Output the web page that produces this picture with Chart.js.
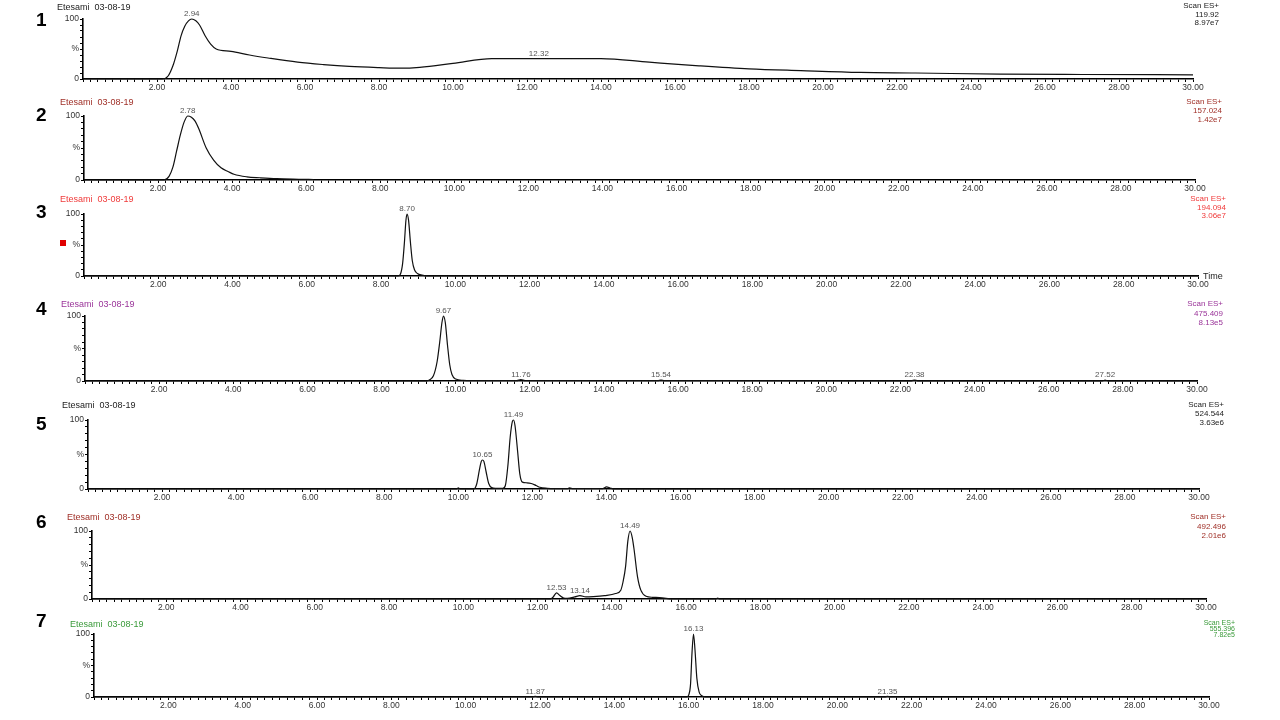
<!DOCTYPE html>
<html>
<head>
<meta charset="utf-8">
<script src="https://cdn.jsdelivr.net/npm/chart.js@4.4.1/dist/chart.umd.min.js"></script>
<style>
  body { margin: 0; width: 1280px; height: 720px; position: relative; overflow: hidden; background: #fff;
         font-family: "Liberation Sans", Arial, sans-serif; }
  canvas { position: absolute; left: 0; }
  .num { position: absolute; font: bold 19px "Liberation Sans", Arial, sans-serif; color: #000; line-height: 20px; }
  .ttl { position: absolute; font-size: 9px; line-height: 10px; white-space: pre; }
  .scan { position: absolute; text-align: right; white-space: pre; }
</style>
</head>
<body>
<script>
// retention time (min) and relative intensity (%) for each trace
const time1 = [0, 2.14, 2.3, 2.43, 2.55, 2.65, 2.75, 2.85, 2.94, 3.05, 3.15, 3.3, 3.45, 3.6, 4.0, 4.5, 5.0, 5.8, 6.5, 7.2, 8.0, 8.6, 9.1, 10.0, 11.05, 12.5, 14.0, 15.3, 16.65, 18.0, 19.4, 21.0, 22.5, 24.8, 27.0, 30.0];
const sig1  = [0, 0, 5, 22, 47, 72, 88, 97, 100, 97, 90, 72, 58, 50, 46, 40, 35, 28, 24, 21, 19, 18, 19.5, 26, 34, 34, 34, 28, 22, 17, 14, 11, 10, 8, 7.5, 7];

const time2 = [0, 2.16, 2.3, 2.4, 2.5, 2.6, 2.7, 2.8, 2.9, 3.0, 3.1, 3.3, 3.5, 3.7, 3.9, 4.05, 4.4, 4.75, 5.2, 5.8, 6.2];
const sig2  = [0, 0, 6, 20, 45, 70, 90, 100, 98, 92, 80, 50, 31, 19, 13, 9, 5, 3.5, 2, 1.2, 0.8];

const time3 = [0, 8.45, 8.52, 8.58, 8.63, 8.67, 8.70, 8.74, 8.79, 8.84, 8.9, 8.98, 9.1, 9.3, 30];
const sig3  = [0, 0, 3, 20, 55, 90, 100, 90, 55, 25, 10, 4, 1.5, 0, 0];

const time4 = [0, 9.2, 9.3, 9.4, 9.5, 9.57, 9.63, 9.67, 9.72, 9.78, 9.84, 9.9, 10.0, 10.2, 10.4, 11.65, 11.76, 11.87, 15.45, 15.54, 15.63, 22.3, 22.38, 22.46, 27.45, 27.52, 27.6, 30];
const sig4  = [0, 0, 2, 8, 30, 60, 90, 100, 90, 55, 25, 10, 3, 1, 0.5, 0.5, 2, 0.5, 0.5, 1.5, 0.5, 0.3, 1.5, 0.3, 0.3, 1.2, 0.3, 0.3];

const time5 = [0, 9.95, 10.0, 10.05, 10.42, 10.5, 10.57, 10.62, 10.65, 10.69, 10.75, 10.82, 10.9, 11.0, 11.2, 11.27, 11.34, 11.4, 11.46, 11.49, 11.53, 11.6, 11.66, 11.73, 11.85, 11.97, 12.1, 12.2, 12.4, 12.6, 12.95, 13.0, 13.1, 13.9, 14.0, 14.1, 14.2, 30];
const sig5  = [0, 0, 1.5, 0, 0, 8, 28, 40, 42, 40, 25, 8, 2, 1, 1, 5, 35, 75, 98, 100, 92, 55, 22, 10, 9, 8, 5, 2.5, 1, 0.5, 0.5, 1.5, 0.5, 0.5, 3, 1.5, 0, 0];

const time6 = [0, 12.35, 12.42, 12.51, 12.6, 12.7, 12.8, 13.0, 13.14, 13.3, 13.5, 13.8, 14.1, 14.24, 14.3, 14.37, 14.43, 14.49, 14.55, 14.6, 14.69, 14.78, 14.92, 15.1, 15.28, 15.46, 15.6, 16.8, 16.85, 16.9, 30];
const sig6  = [0, 0, 3, 9, 5, 1.5, 1, 3, 5, 3, 3.5, 5, 8, 13, 25, 48, 85, 100, 90, 72, 33, 13, 4, 2.5, 2, 1, 0, 0, 1.5, 0, 0];

const time7 = [0, 11.8, 11.87, 11.95, 15.95, 16.0, 16.05, 16.09, 16.13, 16.17, 16.22, 16.28, 16.35, 16.45, 21.28, 21.35, 21.42, 30];
const sig7  = [0, 0, 1, 0, 0, 3, 20, 70, 100, 75, 30, 8, 2, 0, 0, 1, 0, 0];

// labelled peaks: text, retention time, height of the trace there
const peakText = [["2.94", "12.32"], ["2.78"], ["8.70"], ["9.67", "11.76", "15.54", "22.38", "27.52"], ["10.65", "11.49"], ["12.53", "13.14", "14.49"], ["16.13", "11.87", "21.35"]];
const peakTime = [[2.94, 12.32], [2.8], [8.70], [9.67, 11.76, 15.54, 22.38, 27.52], [10.65, 11.49], [12.51, 13.14, 14.49], [16.13, 11.87, 21.35]];
const peakTop  = [[100, 34], [100], [100], [100, 2, 1.5, 1.5, 1.2], [42, 100], [9, 5, 100], [100, 1, 1]];

const sampleName = "Etesami  03-08-19";
const scanMode = "Scan ES+";
const scanMass = ["119.92", "157.024", "194.094", "475.409", "524.544", "492.496", "555.396"];
const scanTic  = ["8.97e7", "1.42e7", "3.06e7", "8.13e5", "3.63e6", "2.01e6", "7.82e5"];
const traceNumbers = ["1", "2", "3", "4", "5", "6", "7"];

const times = [time1, time2, time3, time4, time5, time6, time7];
const signals = [sig1, sig2, sig3, sig4, sig5, sig6, sig7];

// where each trace sits on the page
const panels = [
  { x0: 83, x30: 1193, top: 19,  bot: 79,  color: "#222",    tx: 57, ty: 2,   ny: 10,  sr: 1219, sy: 2,   sg: 8.5, fs: 8 },
  { x0: 84, x30: 1195, top: 116, bot: 180, color: "#a03028", tx: 60, ty: 97,  ny: 105, sr: 1222, sy: 97,  sg: 9,   fs: 8 },
  { x0: 84, x30: 1198, top: 214, bot: 276, color: "#f03a3a", tx: 60, ty: 194, ny: 202, sr: 1226, sy: 195, sg: 8.5, fs: 8 },
  { x0: 85, x30: 1197, top: 316, bot: 381, color: "#9a3499", tx: 61, ty: 299, ny: 299, sr: 1223, sy: 299, sg: 9.5, fs: 8 },
  { x0: 88, x30: 1199, top: 420, bot: 489, color: "#222",    tx: 62, ty: 400, ny: 414, sr: 1224, sy: 400, sg: 9,   fs: 8 },
  { x0: 92, x30: 1206, top: 531, bot: 599, color: "#a03028", tx: 67, ty: 512, ny: 512, sr: 1226, sy: 512, sg: 9.5, fs: 8 },
  { x0: 94, x30: 1209, top: 634, bot: 697, color: "#3a9a3a", tx: 70, ty: 619, ny: 611, sr: 1235, sy: 620, sg: 6,   fs: 7 }
];

const padTop = 16, xAxisH = 16, yAxisW = 30;
const tickFont = { size: 8.5, family: '"Liberation Sans", Arial, sans-serif' };

const peakLabels = {
  id: "peakLabels",
  afterDatasetsDraw(chart) {
    const p = chart.options.plugins.peakLabels;
    const { ctx, scales } = chart;
    ctx.save();
    ctx.font = '8px "Liberation Sans", Arial, sans-serif';
    ctx.fillStyle = "#555";
    ctx.textAlign = "center";
    ctx.textBaseline = "bottom";
    p.text.forEach((t, i) => {
      ctx.fillText(t, scales.x.getPixelForValue(p.time[i]), scales.y.getPixelForValue(p.top[i]) - 1);
    });
    ctx.restore();
  }
};

function addDiv(cls, text, css) {
  const d = document.createElement("div");
  d.className = cls;
  d.textContent = text;
  Object.assign(d.style, css);
  document.body.appendChild(d);
  return d;
}

panels.forEach((p, k) => {
  const canvas = document.createElement("canvas");
  canvas.width = 1280;
  canvas.height = padTop + (p.bot - p.top) + xAxisH;
  canvas.style.top = (p.top - padTop) + "px";
  document.body.appendChild(canvas);

  const points = times[k].map((t, i) => ({ x: t, y: signals[k][i] }));

  new Chart(canvas.getContext("2d"), {
    type: "line",
    data: {
      datasets: [{
        data: points,
        borderColor: "#111",
        borderWidth: 1.2,
        pointRadius: 0,
        cubicInterpolationMode: "monotone",
        clip: 6
      }]
    },
    options: {
      responsive: false,
      animation: false,
      devicePixelRatio: 1,
      layout: { padding: { top: padTop, left: p.x0 - yAxisW, right: 1280 - p.x30, bottom: 0 } },
      plugins: {
        legend: { display: false },
        tooltip: { enabled: false },
        peakLabels: { text: peakText[k], time: peakTime[k], top: peakTop[k] }
      },
      scales: {
        x: {
          type: "linear",
          min: 0,
          max: 30,
          afterFit: (s) => { s.height = xAxisH; },
          afterBuildTicks: (s) => { s.ticks = Array.from({ length: 151 }, (_, i) => ({ value: i * 0.2 })); },
          border: { display: true, color: "#000", width: 1.6 },
          grid: { display: true, drawOnChartArea: false, tickLength: 3, tickColor: "#000", lineWidth: 1 },
          ticks: {
            autoSkip: false,
            maxRotation: 0,
            minRotation: 0,
            padding: 1,
            color: "#333",
            font: tickFont,
            callback: (v, i) => (i > 0 && i % 10 === 0) ? (i / 5).toFixed(2) : ""
          }
        },
        y: {
          min: 0,
          max: 100,
          afterFit: (s) => { s.width = yAxisW; },
          afterBuildTicks: (s) => { s.ticks = Array.from({ length: 11 }, (_, i) => ({ value: i * 10 })); },
          border: { display: true, color: "#000", width: 1.6 },
          grid: { display: true, drawOnChartArea: false, tickLength: 3, tickColor: "#000", lineWidth: 1 },
          ticks: {
            autoSkip: false,
            padding: 1,
            color: "#333",
            font: tickFont,
            callback: (v) => v === 100 ? "100" : v === 50 ? "%" : v === 0 ? "0" : ""
          }
        }
      }
    },
    plugins: [peakLabels]
  });

  addDiv("num", traceNumbers[k], { left: "36px", top: p.ny + "px" });
  addDiv("ttl", sampleName, { left: p.tx + "px", top: p.ty + "px", color: p.color });
  addDiv("scan", [scanMode, scanMass[k], scanTic[k]].join("\n"), {
    right: (1280 - p.sr) + "px", top: p.sy + "px", color: p.color,
    fontSize: p.fs + "px", lineHeight: p.sg + "px"
  });
});

// extras on trace 3
addDiv("ttl", "Time", { left: "1203px", top: "271px", color: "#222" });
const mark = document.createElement("div");
Object.assign(mark.style, { position: "absolute", left: "60px", top: "240px", width: "6px", height: "6px", background: "#e00000" });
document.body.appendChild(mark);
</script>
</body>
</html>
